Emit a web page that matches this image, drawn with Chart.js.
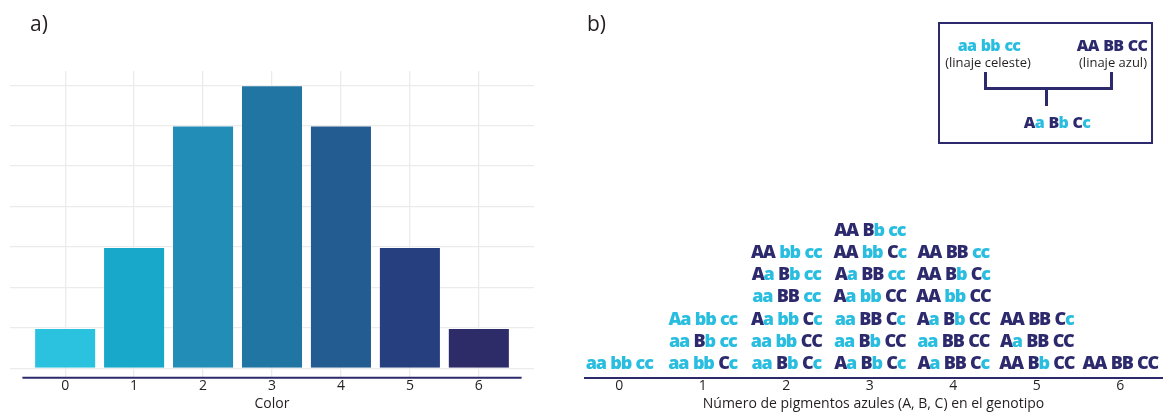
<!DOCTYPE html>
<html lang="es">
<head>
<meta charset="utf-8">
<script src="https://cdn.jsdelivr.net/npm/chart.js@4.4.1/dist/chart.umd.min.js"></script>
<style>
  body { margin: 0; background: #fff; font-family: 'Open Sans', sans-serif; }
  #lienzo { position: relative; width: 1164px; height: 412px; overflow: hidden; }
  .panel { position: absolute; top: 0; height: 412px; }
  #panelA { left: 0; width: 560px; }
  #panelB { left: 560px; width: 604px; }
  .rotulo { position: absolute; top: 9px; font-size: 21px; color: #231f20; }
  .t { position: absolute; transform: translate(-50%, -50%); white-space: nowrap; }
  .geno { font-weight: 800; font-size: 16px; letter-spacing: -0.7px; word-spacing: 1px; }
  .nota { font-size: 13px; color: #231f20; }
  .n { color: #2c2a6d; }
  .c { color: #29bde0; }
  #recuadro { position: absolute; left: 938px; top: 22px; width: 211px; height: 118px; border: 2px solid #2c2a6d; }
  #llave { position: absolute; left: 984px; top: 72px; width: 123px; height: 15px;
           border: 3px solid #2c2a6d; border-top: none; }
  #tallo { position: absolute; left: 1045px; top: 89px; width: 3px; height: 17px; background: #2c2a6d; }
</style>
</head>
<body>
<div id="lienzo">
  <div class="panel" id="panelA"><canvas id="graficaColor"></canvas></div>
  <div class="panel" id="panelB"><canvas id="graficaGenotipos"></canvas></div>

  <div class="rotulo" style="left:30px">a)</div>
  <div class="rotulo" style="left:587px">b)</div>

  <div id="recuadro"></div>
  <div class="t geno" style="left:989px; top:45px"><span class="c">aa bb cc</span></div>
  <div class="t nota" style="left:988px; top:62px">(linaje celeste)</div>
  <div class="t geno" style="left:1112px; top:45px"><span class="n">AA BB CC</span></div>
  <div class="t nota" style="left:1113px; top:62px">(linaje azul)</div>
  <div id="llave"></div>
  <div id="tallo"></div>
  <div class="t geno" style="left:1057px; top:122px"><span class="n">A</span><span class="c">a</span> <span class="n">B</span><span class="c">b</span> <span class="n">C</span><span class="c">c</span></div>
</div>

<script>
const NAVY = '#2c2a6d'
const CELESTE = '#29bde0'
const GRID = '#ebebeb'
const TEXTO = '#231f20'

// a) frecuencia de cada color
const categorias = [0, 1, 2, 3, 4, 5, 6]
const frecuencias = [1, 3, 6, 7, 6, 3, 1]
const coloresBarras = ['#2bc2df', '#17a8ca', '#228eb7', '#2175a3', '#235c91', '#263f7e', '#2e2b69']

// b) genotipos según número de alelos azules (de abajo hacia arriba)
const genotipos = [
  ['aa bb cc'],
  ['aa bb Cc', 'aa Bb cc', 'Aa bb cc'],
  ['aa Bb Cc', 'aa bb CC', 'Aa bb Cc', 'aa BB cc', 'Aa Bb cc', 'AA bb cc'],
  ['Aa Bb Cc', 'aa Bb CC', 'aa BB Cc', 'Aa bb CC', 'Aa BB cc', 'AA bb Cc', 'AA Bb cc'],
  ['Aa BB Cc', 'aa BB CC', 'Aa Bb CC', 'AA bb CC', 'AA Bb Cc', 'AA BB cc'],
  ['AA Bb CC', 'Aa BB CC', 'AA BB Cc'],
  ['AA BB CC']
]
// en el original esta celda sale toda en celeste
const celdasClaras = ['1-2']

Chart.defaults.font.family = "'Open Sans', sans-serif"
Chart.defaults.font.size = 14
Chart.defaults.color = TEXTO
Chart.defaults.animation = false

function ticksEnteros(valores) {
  return function(scale) { scale.ticks = valores.map(function(v) { return { value: v } }) }
}

// linea del eje x, un poco mas corta que el panel
const lineaEje = {
  id: 'lineaEje',
  afterDraw(chart) {
    const { ctx, chartArea, scales } = chart
    ctx.save()
    ctx.strokeStyle = NAVY
    ctx.lineWidth = 2
    ctx.beginPath()
    ctx.moveTo(scales.x.getPixelForValue(-0.62), chartArea.bottom)
    ctx.lineTo(scales.x.getPixelForValue(6.62), chartArea.bottom)
    ctx.stroke()
    ctx.restore()
  }
}

new Chart(document.getElementById('graficaColor'), {
  type: 'bar',
  data: {
    datasets: [{
      data: categorias.map(function(c, i) { return { x: c, y: frecuencias[i] } }),
      backgroundColor: coloresBarras,
      borderColor: 'rgba(255,255,255,0.35)',
      borderWidth: 1,
      categoryPercentage: 1,
      barPercentage: 0.9,
    }]
  },
  options: {
    responsive: true,
    maintainAspectRatio: false,
    layout: { padding: { left: 10, right: 26, top: 71, bottom: 1 } },
    plugins: { legend: { display: false }, tooltip: { enabled: false } },
    scales: {
      x: {
        type: 'linear', min: -0.8, max: 6.8, offset: false,
        afterBuildTicks: ticksEnteros(categorias),
        grid: { color: GRID, lineWidth: 1.3, drawTicks: false, offset: false },
        border: { display: false },
        ticks: { padding: 1, font: { size: 14, lineHeight: 1 } },
        title: { display: true, text: 'Color', padding: { top: 3.3, bottom: 0 }, font: { size: 14, lineHeight: 1 } }
      },
      y: {
        min: -0.23, max: 7.35,
        afterBuildTicks: ticksEnteros([0, 1, 2, 3, 4, 5, 6, 7]),
        grid: { color: GRID, lineWidth: 1.3, drawTicks: false },
        border: { display: false },
        ticks: { display: false }
      }
    }
  },
  plugins: [lineaEje]
})

// escribe cada genotipo en su punto, mayusculas en azul y minusculas en celeste
const textoGenotipos = {
  id: 'textoGenotipos',
  afterDatasetsDraw(chart) {
    const { ctx } = chart
    const meta = chart.getDatasetMeta(0)
    const puntos = chart.data.datasets[0].data
    ctx.save()
    ctx.font = "800 18px 'Open Sans', sans-serif"
    ctx.textBaseline = 'alphabetic'
    meta.data.forEach(function(el, k) {
      const d = puntos[k]
      const letras = d.g.split('')
      const anchos = letras.map(function(l) { return l === ' ' ? 4.5 : ctx.measureText(l).width - 1.2 })
      const total = anchos.reduce(function(a, b) { return a + b }, 0)
      let x = el.x - total / 2
      letras.forEach(function(l, j) {
        if (l !== ' ') {
          ctx.fillStyle = (d.claro || l === l.toLowerCase()) ? CELESTE : NAVY
          ctx.fillText(l, x, el.y + 6.5)
        }
        x += anchos[j]
      })
    })
    ctx.restore()
  }
}

new Chart(document.getElementById('graficaGenotipos'), {
  type: 'scatter',
  data: {
    datasets: [{
      data: genotipos.flatMap(function(col, i) {
        return col.map(function(g, j) {
          return { x: categorias[i], y: j, g: g, claro: celdasClaras.includes(i + '-' + j) }
        })
      }),
      pointRadius: 0,
      pointHoverRadius: 0,
    }]
  },
  options: {
    responsive: true,
    maintainAspectRatio: false,
    layout: { padding: { left: 25, right: 2, top: 200, bottom: 1 } },
    plugins: { legend: { display: false }, tooltip: { enabled: false } },
    scales: {
      x: {
        type: 'linear', min: -0.41, max: 6.5,
        afterBuildTicks: ticksEnteros(categorias),
        grid: { display: false, drawTicks: false },
        border: { display: true, color: NAVY, width: 2 },
        ticks: { padding: 1, font: { size: 14, lineHeight: 1 } },
        title: {
          display: true, text: 'Número de pigmentos azules (A, B, C) en el genotipo',
          padding: { top: 3.3, bottom: 0 }, font: { size: 14, lineHeight: 1 }
        }
      },
      y: { display: false, min: -0.66, max: 7.3 }
    }
  },
  plugins: [textoGenotipos]
})
</script>
</body>
</html>
